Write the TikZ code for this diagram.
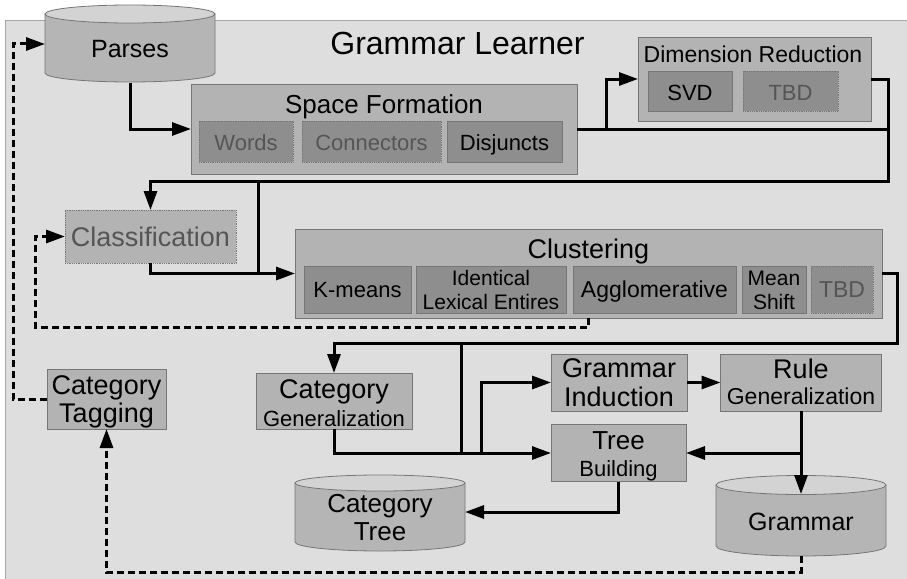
\documentclass[tikz,border=0pt]{standalone}
\usepackage{fontspec}
\setmainfont{Liberation Sans}
\usetikzlibrary{arrows.meta}

\definecolor{bggray}{HTML}{DEDEDE}
\definecolor{framegray}{HTML}{A6A6A6}
\definecolor{boxgray}{HTML}{B3B3B3}
\definecolor{subgray}{HTML}{8E8E8E}
\definecolor{edgegray}{HTML}{767676}
\definecolor{dimtext}{HTML}{555555}
\definecolor{cylbody}{HTML}{B5B5B5}
\definecolor{cyltop}{HTML}{D3D3D3}

\tikzset{
  stagebox/.style={draw=edgegray, fill=boxgray, line width=0.8pt, inner sep=0pt, outer sep=0pt},
  methodbox/.style={draw=edgegray, fill=subgray, line width=0.8pt, inner sep=0pt, outer sep=0pt},
  pendingbox/.style={methodbox, densely dotted},
  pendingstage/.style={stagebox, densely dotted},
  hitbox/.style={inner sep=0pt, outer sep=0pt},
  lbl/.style={anchor=base, inner sep=0pt, font=\fontsize{#1}{#1}\selectfont},
  flow/.style={line width=3pt, -{Triangle[length=19pt,width=13pt]}},
  link/.style={line width=3pt},
  feedback/.style={line width=3pt, dash pattern=on 7pt off 4pt, -{Triangle[length=19pt,width=13pt]}},
  cylside/.style={draw=edgegray, line width=0.8pt},
}

\begin{document}
\begin{tikzpicture}[x=1pt, y=1pt]
\useasboundingbox (0,0) rectangle (907,-578);
\fill[white] (0,0) rectangle (907,-578);

% outer frame of the learner
\draw[framegray, fill=bggray, line width=1pt] (5,-21) rectangle (912,-583);
\node[lbl=32] (title) at (457.5,-55) {Grammar Learner};

% ---- Parses database
\fill[cylbody] (45,-14) -- (45,-73) arc[start angle=180, end angle=360, x radius=85, y radius=9] -- (215,-14) -- cycle;
\draw[cylside] (45,-14) -- (45,-73) arc[start angle=180, end angle=360, x radius=85, y radius=9] -- (215,-14);
\draw[cylside, fill=cyltop] (130,-14) ellipse[x radius=85, y radius=9];
\node[hitbox, minimum width=170pt, minimum height=78pt] (parses) at (130,-44) {};
\node[lbl=25] at (130,-58) {Parses};

% ---- Space Formation
\node[stagebox, minimum width=386pt, minimum height=90pt] (space) at (384,-129) {};
\node[lbl=26] at (384,-113) {Space Formation};
\node[pendingbox, minimum width=94pt, minimum height=41pt] (words) at (246,-141.5) {};
\node[lbl=22, text=dimtext] at (246,-150) {Words};
\node[pendingbox, minimum width=139pt, minimum height=41pt] (connectors) at (371.5,-141.5) {};
\node[lbl=22, text=dimtext] at (371.5,-150) {Connectors};
\node[methodbox, minimum width=115pt, minimum height=41pt] (disjuncts) at (504.5,-141.5) {};
\node[lbl=22] at (504.5,-150) {Disjuncts};

% ---- Dimension Reduction
\node[stagebox, minimum width=233pt, minimum height=84pt] (dimred) at (754.5,-79) {};
\node[lbl=23] at (753,-63) {Dimension Reduction};
\node[methodbox, minimum width=84pt, minimum height=40pt] (svd) at (690,-91) {};
\node[lbl=22] at (690,-100) {SVD};
\node[pendingbox, minimum width=95pt, minimum height=40pt] (dimtbd) at (790.5,-91) {};
\node[lbl=22, text=dimtext] at (790.5,-100) {TBD};

% ---- Classification
\node[pendingstage, minimum width=171pt, minimum height=53pt] (classif) at (150.5,-236.5) {};
\node[lbl=27, text=dimtext] at (150.5,-246) {Classification};

% ---- Clustering
\node[stagebox, minimum width=587pt, minimum height=89pt] (clust) at (588.5,-273.5) {};
\node[lbl=27] at (588.5,-258) {Clustering};
\node[methodbox, minimum width=107pt, minimum height=47pt] (kmeans) at (357.5,-289.5) {};
\node[lbl=22] at (357.5,-297) {K-means};
\node[methodbox, minimum width=150pt, minimum height=47pt] (ile) at (491,-289.5) {};
\node[lbl=21] at (491,-285) {Identical};
\node[lbl=21] at (491,-309) {Lexical Entires};
\node[methodbox, minimum width=163pt, minimum height=47pt] (agglo) at (654.5,-289.5) {};
\node[lbl=23] at (654.5,-297) {Agglomerative};
\node[methodbox, minimum width=64pt, minimum height=47pt] (meanshift) at (774,-289.5) {};
\node[lbl=21] at (774,-285) {Mean};
\node[lbl=21] at (774,-309) {Shift};
\node[pendingbox, minimum width=62pt, minimum height=47pt] (clusttbd) at (842,-289.5) {};
\node[lbl=23, text=dimtext] at (842,-297) {TBD};

% ---- lower stages
\node[stagebox, minimum width=119pt, minimum height=60pt] (cattag) at (106.5,-399) {};
\node[lbl=27] at (106.5,-394) {Category};
\node[lbl=27] at (106.5,-422) {Tagging};

\node[stagebox, minimum width=156pt, minimum height=56pt] (catgen) at (334,-401) {};
\node[lbl=27] at (334,-398) {Category};
\node[lbl=22] at (334,-426) {Generalization};

\node[stagebox, minimum width=136pt, minimum height=57pt] (gi) at (619,-382.5) {};
\node[lbl=27] at (619,-377) {Grammar};
\node[lbl=27] at (619,-406) {Induction};

\node[stagebox, minimum width=161pt, minimum height=57pt] (rg) at (801,-382.5) {};
\node[lbl=27] at (801,-378) {Rule};
\node[lbl=23] at (801,-404) {Generalization};

\node[stagebox, minimum width=135pt, minimum height=57pt] (tree) at (618.5,-453) {};
\node[lbl=26] at (618.5,-449) {Tree};
\node[lbl=22] at (618.5,-476) {Building};

% ---- Category Tree database
\fill[cylbody] (295,-483) -- (295,-542) arc[start angle=180, end angle=360, x radius=85, y radius=9] -- (465,-483) -- cycle;
\draw[cylside] (295,-483) -- (295,-542) arc[start angle=180, end angle=360, x radius=85, y radius=9] -- (465,-483);
\draw[cylside, fill=cyltop] (380,-483) ellipse[x radius=85, y radius=8];
\node[hitbox, minimum width=170pt, minimum height=76pt] (cattree) at (380,-512) {};
\node[lbl=26] at (380,-512) {Category};
\node[lbl=26] at (380,-540) {Tree};

% ---- Grammar database
\fill[cylbody] (716,-485) -- (716,-546) arc[start angle=180, end angle=360, x radius=85, y radius=10] -- (886,-485) -- cycle;
\draw[cylside] (716,-485) -- (716,-546) arc[start angle=180, end angle=360, x radius=85, y radius=10] -- (886,-485);
\draw[cylside, fill=cyltop] (801,-485) ellipse[x radius=85, y radius=9.5];
\node[hitbox, minimum width=170pt, minimum height=80pt] (gram) at (801,-516) {};
\node[lbl=25] at (801,-530) {Grammar};

% ---- junction points of the flow lines
\coordinate (bus1) at (888,-181);
\coordinate (bus2) at (897,-343);
\coordinate (j1) at (258,-181);
\coordinate (j2) at (461,-343);
\coordinate (j3) at (481,-453);
\coordinate (j4) at (801,-453);
\coordinate (gramtop) at (801,-494);
\coordinate (d1) at (106.5,-572);
\coordinate (d2) at (13,-399);
\coordinate (d3) at (35,-327);

% ---- main flow
\draw[flow] (parses) |- (space);
\draw[flow] (space.east) -- ++(29,0) |- (dimred.west);
\draw[link] (space.east) -- (space.east -| bus1);
\draw[flow] (dimred.east) -| (bus1) -| (classif.north);
\draw[link] (j1) -- (j1 |- clust.west);
\draw[flow] (classif.south) |- (clust.west);
\draw[flow] (clust.east) -| (bus2) -| (catgen.north);
\draw[link] (j2) -- (j2 |- tree.west);
\draw[flow] (catgen.south) |- (tree.west);
\draw[flow] (j3) |- (gi.west);
\draw[flow] (gi.east) -- (rg.west);
\draw[flow] (rg.south) -- (gramtop);
\draw[flow] (j4) -- (tree.east);
\draw[flow] (tree.south) |- (cattree.east);

% ---- feedback loops
\draw[feedback] (clust.south) |- (d3) |- (classif.west);
\draw[feedback] (gram.south) |- (d1) -- (cattag.south);
\draw[feedback] (cattag.west) -- (d2) |- (parses.west);
\end{tikzpicture}
\end{document}
